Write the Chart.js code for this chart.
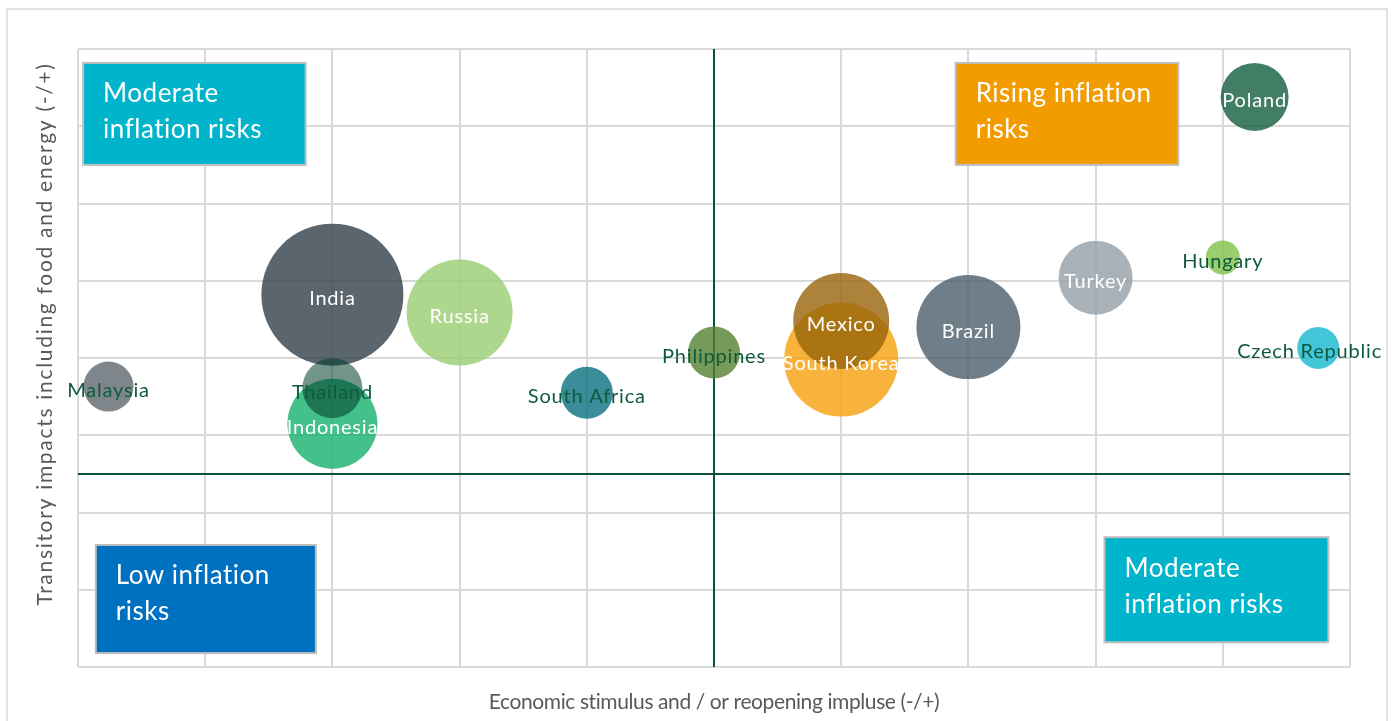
<!DOCTYPE html>
<html>
<head>
<meta charset="utf-8">
<script src="https://cdn.jsdelivr.net/npm/chart.js@4.4.0/dist/chart.umd.min.js"></script>
<style>
  html, body { margin: 0; padding: 0; background: #fff; }
  #wrap { width: 1392px; height: 721px; position: relative; }
</style>
</head>
<body>
<div id="wrap"><canvas id="bubbleChart"></canvas></div>
<script>
// data
var countries = ["Malaysia", "India", "Indonesia", "Thailand", "Russia", "South Africa", "Philippines",
                 "South Korea", "Mexico", "Brazil", "Turkey", "Hungary", "Poland", "Czech Republic"];
var stimulus   = [-4.76, -3.0, -3.0, -3.0, -2.0, -1.0, 0.0, 1.0, 1.0, 2.0, 3.0, 4.0, 4.25, 4.75];
var transitory = [1.13, 2.32, 0.65, 1.11, 2.09, 1.05, 1.57, 1.48, 1.98, 1.90, 2.54, 2.80, 4.88, 1.63];
var bubbleSize = [25, 71, 45, 30, 53, 26, 26, 57, 48, 52, 37, 17, 34, 21];

var xTicks = [-5, -4, -3, -2, -1, 0, 1, 2, 3, 4, 5];
var yTicks = [-2.5, -1.5, -0.5, 0.5, 1.5, 2.5, 3.5, 4.5, 5.5];

var xTitle = "Economic stimulus and / or reopening impluse (-/+)";
var yTitle = "Transitory impacts including food and energy (-/+)";

var quadrants = [
  { lines: ["Moderate", "inflation risks"], x0: -4.96, x1: -3.21, y0: 5.32, y1: 4.00, fill: "#00b4cb" },
  { lines: ["Rising inflation", "risks"],    x0: 1.90,  x1: 3.65,  y0: 5.32, y1: 4.00, fill: "#f39c00" },
  { lines: ["Low inflation", "risks"],       x0: -4.86, x1: -3.13, y0: -0.92, y1: -2.32, fill: "#0070c0" },
  { lines: ["Moderate", "inflation risks"], x0: 3.07,  x1: 4.83,  y0: -0.82, y1: -2.18, fill: "#00b4cb" }
];

var bubbleColors = [
  'rgba(95, 104, 110, 0.8)',   // Malaysia
  'rgba(50, 63, 72, 0.8)',     // India
  'rgba(21, 176, 110, 0.8)',   // Indonesia
  'rgba(0, 60, 40, 0.55)',     // Thailand
  'rgba(154, 205, 114, 0.8)',  // Russia
  'rgba(9, 112, 128, 0.8)',    // South Africa
  'rgba(84, 129, 47, 0.8)',    // Philippines
  'rgba(245, 160, 10, 0.8)',   // South Korea
  'rgba(153, 100, 10, 0.8)',   // Mexico
  'rgba(75, 94, 107, 0.8)',    // Brazil
  'rgba(149, 159, 168, 0.8)',  // Turkey
  'rgba(129, 192, 74, 0.8)',   // Hungary
  'rgba(18, 94, 62, 0.8)',     // Poland
  'rgba(19, 184, 206, 0.8)'    // Czech Republic
];
var darkLabel = ["Malaysia", "Thailand", "South Africa", "Philippines", "Hungary", "Czech Republic"];

var points = countries.map(function (c, i) {
  return { x: stimulus[i], y: transitory[i], r: bubbleSize[i] };
});

var FONT = "Lato, 'Open Sans', sans-serif";

var extras = {
  id: 'extras',
  beforeDraw: function (chart) {
    var ctx = chart.ctx;
    ctx.save();
    ctx.strokeStyle = '#d9d9d9';
    ctx.lineWidth = 1.5;
    ctx.strokeRect(7, 9, 1380, 730);
    ctx.restore();
  },
  beforeDatasetsDraw: function (chart) {
    var ctx = chart.ctx, xs = chart.scales.x, ys = chart.scales.y, a = chart.chartArea;
    ctx.save();
    // axis cross lines
    ctx.strokeStyle = '#0b5234';
    ctx.lineWidth = 2;
    ctx.beginPath();
    var x0 = Math.round(xs.getPixelForValue(0));
    ctx.moveTo(x0, a.top); ctx.lineTo(x0, a.bottom);
    var y0 = Math.round(ys.getPixelForValue(0));
    ctx.moveTo(a.left, y0); ctx.lineTo(a.right, y0);
    ctx.stroke();
    // quadrant boxes
    quadrants.forEach(function (q) {
      var l = xs.getPixelForValue(q.x0), r = xs.getPixelForValue(q.x1);
      var t = ys.getPixelForValue(q.y0), b = ys.getPixelForValue(q.y1);
      ctx.fillStyle = q.fill;
      ctx.fillRect(l, t, r - l, b - t);
      ctx.strokeStyle = '#bfbfbf';
      ctx.lineWidth = 2;
      ctx.strokeRect(l, t, r - l, b - t);
      ctx.fillStyle = '#ffffff';
      ctx.font = "26px " + FONT;
      ctx.letterSpacing = '0.5px';
      ctx.textBaseline = 'middle';
      ctx.textAlign = 'left';
      q.lines.forEach(function (txt, k) {
        ctx.fillText(txt, l + 20, t + 31 + k * 36);
      });
    });
    ctx.restore();
  },
  afterDatasetsDraw: function (chart) {
    var ctx = chart.ctx, meta = chart.getDatasetMeta(0);
    ctx.save();
    ctx.font = "20px " + FONT;
    ctx.letterSpacing = '0.8px';
    ctx.textAlign = 'center';
    ctx.textBaseline = 'middle';
    meta.data.forEach(function (el, i) {
      var name = countries[i];
      var w = ctx.measureText(name).width;
      var cx = el.x;
      if (cx + w / 2 > chart.width - 10) cx = chart.width - 10 - w / 2;
      ctx.fillStyle = darkLabel.indexOf(name) >= 0 ? '#0e5a3c' : '#ffffff';
      ctx.fillText(name, cx, el.y + 4);
    });
    // axis titles
    var a = chart.chartArea;
    ctx.fillStyle = '#595959';
    ctx.font = "21px " + FONT;
    ctx.letterSpacing = '-0.4px';
    ctx.fillText(xTitle, (a.left + a.right) / 2, 702);
    ctx.translate(45, 334);
    ctx.rotate(-Math.PI / 2);
    ctx.font = "21px " + FONT;
    ctx.letterSpacing = '1.7px';
    ctx.fillText(yTitle, 0, 0);
    ctx.restore();
  }
};

var bubbleChart = new Chart(document.getElementById("bubbleChart").getContext("2d"), {
  type: 'bubble',
  data: {
    datasets: [{
      label: 'Countries',
      data: points,
      backgroundColor: bubbleColors,
      borderWidth: 0,
      hoverBorderWidth: 0
    }]
  },
  options: {
    responsive: true,
    maintainAspectRatio: false,
    animation: false,
    events: [],
    layout: { autoPadding: false, padding: { left: 78, right: 42, top: 49, bottom: 54 } },
    plugins: { legend: { display: false }, tooltip: { enabled: false } },
    scales: {
      x: {
        type: 'linear', min: -5, max: 5,
        afterBuildTicks: function (s) { s.ticks = xTicks.map(function (v) { return { value: v }; }); },
        ticks: { display: false },
        grid: { color: '#d9d9d9', lineWidth: 2, drawTicks: false },
        border: { display: false }
      },
      y: {
        type: 'linear', min: -2.5, max: 5.5,
        afterBuildTicks: function (s) { s.ticks = yTicks.map(function (v) { return { value: v }; }); },
        ticks: { display: false },
        grid: { color: '#d9d9d9', lineWidth: 2, drawTicks: false },
        border: { display: false }
      }
    }
  },
  plugins: [extras]
});
</script>
</body>
</html>
